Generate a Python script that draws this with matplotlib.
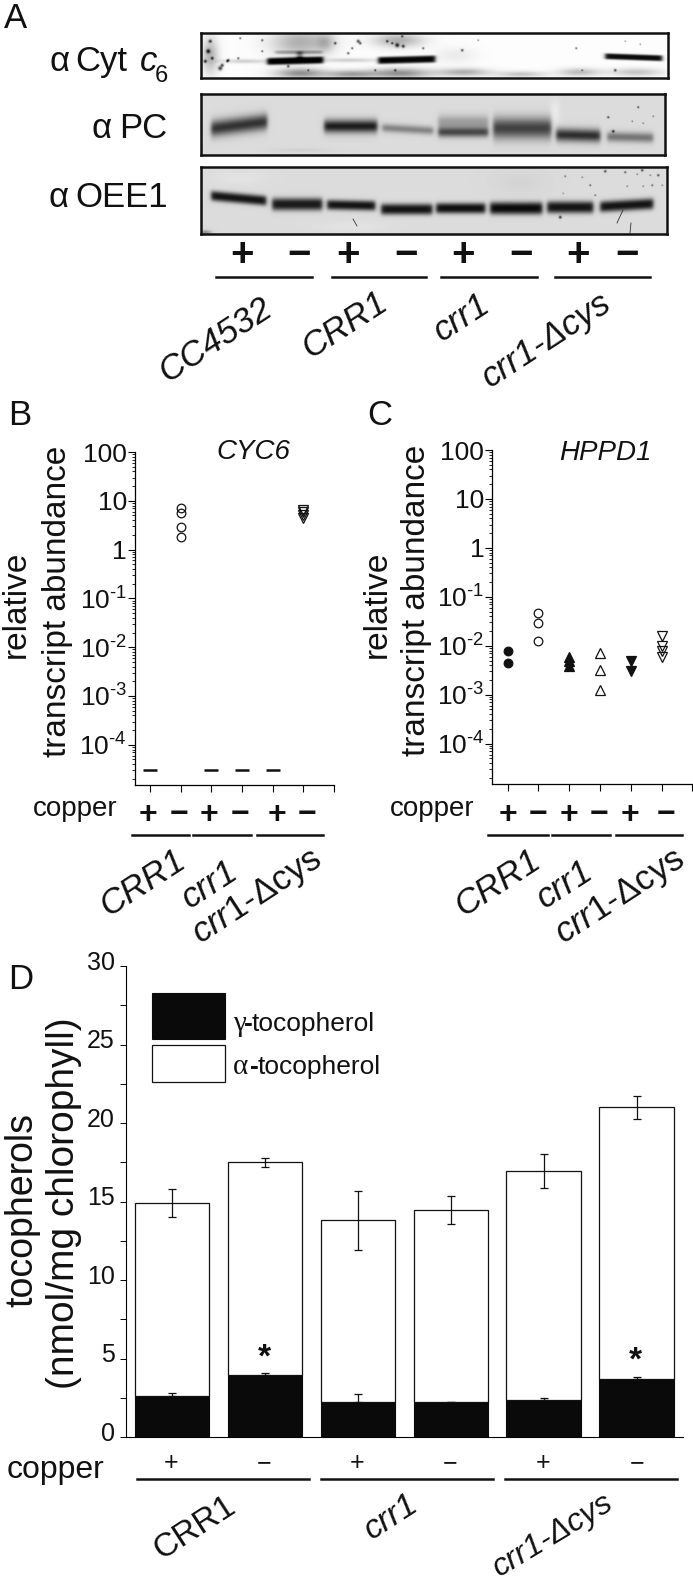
import numpy as np
import matplotlib
matplotlib.use('Agg')
from matplotlib import pyplot as plt
from matplotlib.patches import Rectangle
from matplotlib.ticker import LogLocator, NullFormatter, FixedLocator
from matplotlib.transforms import ScaledTranslation

plt.rcParams['font.family'] = ['Liberation Sans', 'DejaVu Sans']
plt.rcParams['mathtext.fontset'] = 'custom'
plt.rcParams['mathtext.rm'] = 'Liberation Sans'
plt.rcParams['mathtext.it'] = 'Liberation Sans:italic'
plt.rcParams['mathtext.default'] = 'regular'

W, H = 693, 1586

# blots: x0, x1, y, sigma, darkness, tilt (figure pixels)
cyt_bands = [(267, 323, 60.5, 3.6, 0.97, -1.5), (378, 435, 59.5, 3.6, 0.97, -1.5), (605, 662, 57, 3.0, 0.95, 2),
             (275, 322, 52, 1.8, 0.25, 0), (297, 302, 55, 4, 0.45, 0)]
cyt_smudge = [(210, 55, 8, 18, 0.28), (300, 42, 28, 14, 0.3), (300, 73, 24, 5, 0.42), (350, 74, 24, 4, 0.35),
              (325, 42, 9, 9, 0.2), (398, 40, 24, 7, 0.3), (400, 73, 30, 5, 0.42), (464, 72, 25, 4, 0.3),
              (521, 74, 23, 3, 0.22), (579, 72, 20, 4, 0.25), (636, 72, 25, 4, 0.22), (245, 61, 25, 2, 0.18),
              (350, 60, 28, 2, 0.18), (455, 55, 20, 8, 0.07)]
cyt_specks = [(210, 41, 1.5), (208, 51, 2), (205, 61, 1.5), (212, 58, 1.3), (227, 61, 1), (228, 60, 1.3), (220, 68, 2),
              (222, 65, 1.5), (238, 58, 1), (262, 40, 1), (262, 51, 0.9), (240, 38, 0.9), (335, 43, 1.2), (358, 41, 1.5),
              (360, 43, 1.2), (348, 53, 1.1), (352, 48, 1), (387, 41, 1.1), (397, 45, 2), (403, 46, 1.5), (392, 43, 1),
              (402, 36, 1), (423, 48, 1), (375, 70, 0.9), (395, 70, 1), (288, 66, 1.2), (308, 70, 0.8),
              (462, 50, 1.2), (478, 40, 0.7), (576, 48, 0.9), (625, 41, 0.6), (640, 44, 0.6), (615, 70, 1.2), (582, 70, 0.7)]
pc_bands = [(211, 267, 125, 8.0, 0.66, -7), (324, 377, 126, 6.5, 0.75, 0), (382, 433, 129, 4.2, 0.34, 3),
            (438, 488, 132, 5.0, 0.55, 0), (438, 488, 122, 7.0, 0.24, 0), (493, 551, 128, 10.5, 0.6, 0),
            (556, 600, 135, 6.5, 0.68, 1), (607, 653, 137, 5.0, 0.4, 1)]
pc_smudge = [(555, 112, 5, 14, -0.06), (300, 150, 30, 2, 0.04)]
pc_specks = [(608, 117, 1), (613, 131, 1.2), (638, 107, 0.9), (632, 121, 0.6), (643, 123, 0.6), (653, 116, 0.6)]
oee_bands = [(211, 266, 198, 5.0, 0.78, 5), (272, 322, 204, 6.2, 0.76, 0), (327, 375, 205, 5.0, 0.78, 1),
             (381, 432, 209, 5.5, 0.78, 0), (436, 485, 208, 5.3, 0.8, 0), (490, 542, 208, 6.2, 0.82, 0),
             (547, 593, 207, 6.0, 0.78, 0), (600, 653, 205, 5.5, 0.78, -3)]
oee_smudge = [(240, 178, 30, 8, -0.03), (520, 182, 25, 12, 0.03), (350, 226, 40, 6, -0.03), (205, 232, 6, 2, 0.3)]
oee_specks = [(565, 176, 0.7), (582, 177, 0.6), (590, 185, 0.8), (605, 171, 1.1), (625, 172, 0.9), (642, 170, 1.1),
              (658, 175, 1), (650, 175, 0.6), (637, 174, 0.6), (627, 186, 0.6), (643, 186, 0.6), (652, 185, 0.8),
              (662, 185, 0.6), (560, 217, 1.3), (595, 195, 0.7), (563, 193, 0.5)]
oee_scratch = [((617, 623), (223, 210)), ((630, 631), (233, 223)), ((353, 357), (219, 226))]

# panel A lanes
lane_signs = ['+', '−', '+', '−', '+', '−', '+', '−']
lane_x = [241.6, 299, 348, 406, 463, 521, 578, 627]
lane_lines = [(216, 312), (332, 426), (441, 537), (555, 650)]
strain_a = ['CC4532', 'CRR1', 'crr1', 'crr1-Δcys']
strain_a_pos = [(215, 340), (345, 325), (462, 318), (547, 340)]

cyc6_x = [2, 2, 2, 2, 6, 6, 6, 6]
cyc6_y = [7.0, 5.5, 2.9, 1.84, 6.5, 5.8, 5.2, 4.4]
cyc6_marker = ['o', 'o', 'o', 'o', 'v', 'v', 'v', 'v']
cyc6_nd_x = [1, 3, 4, 5]
cyc6_nd_y = [3e-5, 3e-5, 3e-5, 3e-5]

hppd_x = [1, 1, 2, 2, 2, 3, 3, 3, 4, 4, 4, 5, 5, 6, 6, 6, 6]
hppd_y = [0.0079, 0.0044, 0.046, 0.029, 0.0126, 0.0060, 0.0048, 0.0038, 0.0071, 0.0032, 0.00123,
          0.0048, 0.0030, 0.0162, 0.0097, 0.0077, 0.0059]
hppd_marker = ['o', 'o', 'o', 'o', 'o', '^', '^', '^', '^', '^', '^', 'v', 'v', 'v', 'v', 'v', 'v']
hppd_filled = [1, 1, 0, 0, 0, 1, 1, 1, 0, 0, 0, 1, 1, 0, 0, 0, 0]

log_ticks = [100, 10, 1, 0.1, 0.01, 0.001, 0.0001]
log_labels = ['100', '10', '1', '10$^{‐1}$', '10$^{‐2}$', '10$^{‐3}$', '10$^{‐4}$']

# panel D
bar_x = [1, 2, 3, 4, 5, 6]
gamma_toc = [2.6, 3.95, 2.2, 2.2, 2.35, 3.7]
alpha_toc = [12.3, 13.55, 11.6, 12.25, 14.6, 17.3]
gamma_err = [0.2, 0.15, 0.55, 0.06, 0.12, 0.12]
total_err = [0.87, 0.3, 1.9, 0.9, 1.1, 0.75]
d_signs = ['+', '−', '+', '−', '+', '−']


def ax_px(fig, x0, y0, x1, y1):
    return fig.add_axes([x0 / W, 1 - y1 / H, (x1 - x0) / W, (y1 - y0) / H])


def put(fig, x, y, s, size=20, **kw):
    kw.setdefault('color', '#111111')
    return fig.text(x / W, 1 - y / H, s, fontsize=size, **kw)


def hline(fig, x0, x1, y, lw=1.8):
    fig.add_artist(plt.Line2D([x0 / W, x1 / W], [1 - y / H, 1 - y / H], color='#111111', lw=lw))


def blot(fig, rect, bg, bands, smudges=(), specks=(), power=2.0):
    x0, y0, x1, y1 = rect
    xx, yy = np.meshgrid(np.arange(x0, x1, 0.5), np.arange(y0, y1, 0.5))
    img = np.full(xx.shape, float(bg))
    for a, b, yc, sig, dark, tilt in bands:
        mid = (a + b) / 2
        win = 0.5 * (np.tanh((xx - a) / 2.2) - np.tanh((xx - b) / 2.2))
        y_here = yc + tilt * (xx - mid) / (b - a)
        img -= dark * win * np.exp(-np.abs((yy - y_here) / sig) ** power)
    for cx, cy, sx, sy, dark in smudges:
        img -= dark * np.exp(-((xx - cx) / sx) ** 2 - ((yy - cy) / sy) ** 2)
    for cx, cy, r in specks:
        img -= 0.75 * np.exp(-((xx - cx) / r) ** 2 - ((yy - cy) / r) ** 2)
    ax = ax_px(fig, x0, y0, x1, y1)
    ax.imshow(np.clip(img, 0, 1), cmap='gray', vmin=0, vmax=1, aspect='auto', extent=[x0, x1, y1, y0],
              interpolation='bilinear')
    ax.set_xticks([])
    ax.set_yticks([])
    for s in ax.spines.values():
        s.set_linewidth(1.8)
        s.set_color('#111111')
    return ax


def log_panel(fig, rect, lim_left):
    ax = ax_px(fig, *rect)
    ax.set_yscale('log')
    ax.set_ylim(1.5e-5, 100)
    ax.set_xlim(lim_left, 7)
    ax.spines['top'].set_visible(False)
    ax.spines['right'].set_visible(False)
    ax.spines['left'].set_linewidth(0.9)
    ax.spines['bottom'].set_linewidth(0.9)
    ax.set_xticks([1, 2, 3, 4, 5, 6, 7])
    ax.set_xticklabels([])
    ax.tick_params(axis='x', length=4.8, width=0.8, direction='out')
    ax.yaxis.set_major_locator(FixedLocator(log_ticks))
    ax.set_yticklabels(log_labels, fontsize=19, color='#111111')
    ax.yaxis.set_minor_locator(LogLocator(base=10, subs=np.arange(2, 10), numticks=20))
    ax.yaxis.set_minor_formatter(NullFormatter())
    ax.tick_params(axis='y', which='major', length=4.8, width=0.8, pad=1)
    ax.tick_params(axis='y', which='minor', length=2.4, width=0.6)
    return ax


fig = plt.figure(figsize=(W / 100, H / 100), dpi=100)

# ---------- A ----------
blot(fig, (201, 33, 668, 78), 0.99, cyt_bands, cyt_smudge, cyt_specks, power=4)
blot(fig, (201, 94, 665, 155), 0.86, pc_bands, pc_smudge, pc_specks, power=2.0)
ax = blot(fig, (201, 167, 667, 234), 0.86, oee_bands, oee_smudge, oee_specks, power=2.6)
for sx, sy in oee_scratch:
    ax.plot(sx, sy, color='#333333', lw=0.6)
ax.set_xlim(201, 667)
ax.set_ylim(234, 167)

put(fig, 4, 28, 'A', 25)
put(fig, 50, 71, 'α', 25)
put(fig, 75, 71, 'Cyt', 25)
put(fig, 140, 71, 'c', 25, style='italic')
put(fig, 155, 82, '6', 17)
put(fig, 91, 138, 'α', 25)
put(fig, 119, 138, 'PC', 25)
put(fig, 48, 207, 'α', 25)
put(fig, 75, 207, 'OEE1', 25)

for x, s in zip(lane_x, lane_signs):
    put(fig, x, 255, s, 29, ha='center', va='center', fontweight='bold')
for a, b in lane_lines:
    hline(fig, a, b, 277)
for (x, y), s in zip(strain_a_pos, strain_a):
    put(fig, x, y, s, 25, ha='center', va='center', rotation=33, style='italic', rotation_mode='anchor')

# ---------- B ----------
ax = log_panel(fig, (135, 452, 334, 785), 0.51)
for x, y, m in zip(cyc6_x, cyc6_y, cyc6_marker):
    ax.plot(x, y, m, ms=6.2 if m == 'o' else 7.2, mfc='none', mec='#111111', mew=0.9)
ax.plot(cyc6_nd_x, cyc6_nd_y, '_', ms=10, mew=1.8, color='#111111')
put(fig, 253, 452, 'CYC6', 20, ha='center', va='center', style='italic')
put(fig, 8, 425, 'B', 25)
put(fig, 16, 604, 'relative', 24, rotation=90, ha='center', va='center')
put(fig, 58, 601, 'transcript abundance', 24, rotation=90, ha='center', va='center')
put(fig, 33, 816, 'copper', 20)
for x, s in zip([148, 179, 209, 240, 277, 307], d_signs):
    put(fig, x, 815, s, 23, ha='center', va='center', fontweight='bold')
for a, b in [(132, 189), (193, 251), (257, 323)]:
    hline(fig, a, b, 835)
put(fig, 143, 883, 'CRR1', 25, ha='center', va='center', rotation=33, style='italic', rotation_mode='anchor')
put(fig, 210, 885, 'crr1', 25, ha='center', va='center', rotation=33, style='italic', rotation_mode='anchor')
put(fig, 257, 897, r'$\mathit{crr1}$-Δcys', 25, ha='center', va='center', rotation=33, rotation_mode='anchor')

# ---------- C ----------
ax = log_panel(fig, (492.3, 450, 692.3, 784), 0.5)
for x, y, m, f in zip(hppd_x, hppd_y, hppd_marker, hppd_filled):
    ax.plot(x, y, m, ms=6.2 if m == 'o' else 7.2, mfc='#111111' if f else 'none', mec='#111111', mew=0.9)
put(fig, 605, 453, 'HPPD1', 20, ha='center', va='center', style='italic')
put(fig, 367, 425, 'C', 25)
put(fig, 377, 604, 'relative', 24, rotation=90, ha='center', va='center')
put(fig, 416, 600, 'transcript abundance', 24, rotation=90, ha='center', va='center')
put(fig, 390, 816, 'copper', 20)
for x, s in zip([507.7, 538, 569, 599, 630, 666], d_signs):
    put(fig, x, 815, s, 23, ha='center', va='center', fontweight='bold')
for a, b in [(488, 548), (552, 610), (616, 682)]:
    hline(fig, a, b, 835)
put(fig, 498, 883, 'CRR1', 25, ha='center', va='center', rotation=33, style='italic', rotation_mode='anchor')
put(fig, 565, 885, 'crr1', 25, ha='center', va='center', rotation=33, style='italic', rotation_mode='anchor')
put(fig, 620, 897, r'$\mathit{crr1}$-Δcys', 25, ha='center', va='center', rotation=33, rotation_mode='anchor')

# ---------- D ----------
ax = ax_px(fig, 126.4, 966, 683, 1437)
gamma_toc = np.array(gamma_toc)
alpha_toc = np.array(alpha_toc)
ax.bar(bar_x, gamma_toc, width=0.8, color='#0a0a0a', edgecolor='#0a0a0a', lw=0.8)
ax.bar(bar_x, alpha_toc, width=0.8, bottom=gamma_toc, color='white', edgecolor='#111111', lw=0.9)
ax.errorbar(bar_x, gamma_toc + alpha_toc, yerr=total_err, fmt='none', ecolor='#111111', elinewidth=0.9, capsize=3.2, capthick=0.9)
ax.errorbar(bar_x, gamma_toc, yerr=[np.zeros(6), gamma_err], fmt='none', ecolor='#111111', elinewidth=0.9, capsize=3.2, capthick=0.9)
ax.set_xlim(0.51, 6.5)
ax.set_ylim(0, 30)
ax.spines['top'].set_visible(False)
ax.spines['right'].set_visible(False)
ax.set_xticks([])
ax.set_yticks(np.arange(0, 31, 5))
ax.set_yticks(np.arange(2.5, 30, 5), minor=True)
ax.tick_params(axis='y', which='both', length=4.5, width=0.7, pad=4, labelsize=18, labelcolor='#111111')
up = ScaledTranslation(0, 4 / 72, fig.dpi_scale_trans)
for t in ax.get_yticklabels():
    t.set_transform(t.get_transform() + up)

fig.add_artist(Rectangle((152 / W, 1 - 1039 / H), 73 / W, 46 / H, fc='#0a0a0a', ec='#0a0a0a', lw=0.8, transform=fig.transFigure))
fig.add_artist(Rectangle((152 / W, 1 - 1081.5 / H), 73 / W, 36.5 / H, fc='white', ec='#111111', lw=0.9, transform=fig.transFigure))
put(fig, 233, 1031, 'γ', 21, family='Liberation Serif')
put(fig, 233, 1074, 'α', 21, family='Liberation Serif')
put(fig, 244, 1031, '-', 19, fontweight='bold')
put(fig, 250, 1074, '-', 19, fontweight='bold')
put(fig, 252, 1031, 'tocopherol', 19)
put(fig, 258, 1074, 'tocopherol', 19)

put(fig, 8, 989, 'D', 25)
put(fig, 22, 1210, 'tocopherols', 27, rotation=90, ha='center', va='center')
put(fig, 64, 1203, '(nmol/mg chlorophyll)', 28, rotation=90, ha='center', va='center')
put(fig, 7, 1478, 'copper', 23)
for x, s in zip([171, 264, 357, 450, 543, 637], d_signs):
    put(fig, x, 1463, s, 18, ha='center', va='center')
for a, b in [(136.5, 309), (320.5, 493), (504.5, 677)]:
    hline(fig, a, b, 1479)
put(fig, 264, 1358, '*', 24, ha='center', va='center', fontweight='bold')
put(fig, 635, 1361, '*', 24, ha='center', va='center', fontweight='bold')
put(fig, 195, 1528, 'CRR1', 24, ha='center', va='center', rotation=33, rotation_mode='anchor')
put(fig, 391, 1517, 'crr1', 24, ha='center', va='center', rotation=33, style='italic', rotation_mode='anchor')
put(fig, 553, 1535, 'crr1-Δcys', 23, ha='center', va='center', rotation=31, style='italic', rotation_mode='anchor')

fig.savefig('out.png', dpi=100)
